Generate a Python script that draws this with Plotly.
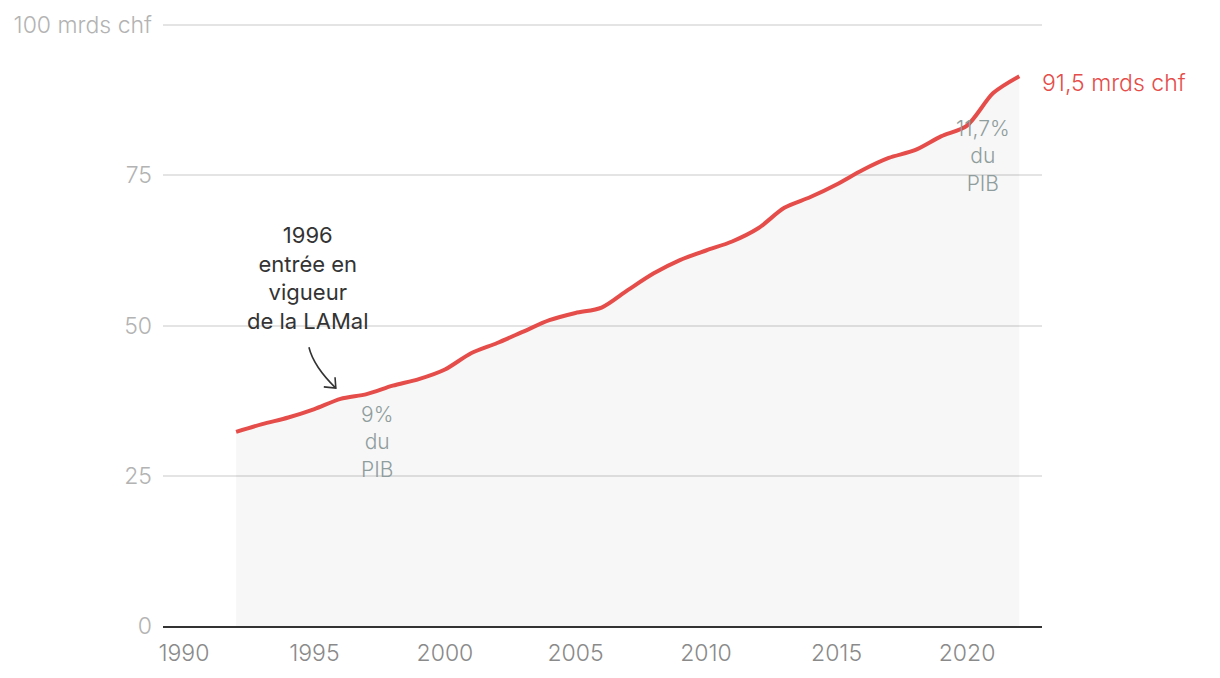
import plotly.graph_objects as go

years = list(range(1992, 2023))
costs = [32.3, 33.6, 34.7, 36.1, 37.8, 38.6, 40.0, 41.1, 42.7, 45.4,
         47.1, 49.0, 50.9, 52.1, 53.0, 55.9, 58.7, 60.9, 62.5, 64.0,
         66.2, 69.6, 71.4, 73.5, 75.9, 77.9, 79.2, 81.5, 83.3, 88.7, 91.5]

y_ticks = [0, 25, 50, 75, 100]
y_labels = ['0', '25', '50', '75', '100 mrds chf']
x_ticks = [1990, 1995, 2000, 2005, 2010, 2015, 2020]

red = '#e54d4a'
grey_note = '#8f9d9d'

fig = go.Figure()
fig.add_trace(go.Scatter(
    x=years, y=costs, mode='lines', fill='tozeroy',
    fillcolor='rgba(0,0,0,0.03)',
    line=dict(color=red, width=4, shape='spline', smoothing=0.8),
    showlegend=False, hoverinfo='skip'))

# curved arrow for the 1996 note
fig.add_shape(type='path', xref='x', yref='y',
              path='M 1994.79,46.4 Q 1994.97,43.2 1995.82,39.6',
              line=dict(color='#333333', width=1.6))
fig.add_shape(type='path', xref='x', yref='y',
              path='M 1995.36,39.8 L 1995.82,39.6 L 1995.79,41.4',
              line=dict(color='#333333', width=1.6))

fig.add_annotation(x=1994.75, y=57.9, xref='x', yref='y', showarrow=False,
                   text='1996<br>entrée en<br>vigueur<br>de la LAMal',
                   font=dict(size=22, color='#333333'), align='center')
fig.add_annotation(x=1997.39, y=30.6, xref='x', yref='y', showarrow=False,
                   text='9%<br>du<br>PIB', font=dict(size=21, color=grey_note, weight=300),
                   align='center')
fig.add_annotation(x=2020.61, y=78.2, xref='x', yref='y', showarrow=False,
                   text='11,7%<br>du<br>PIB', font=dict(size=21, color=grey_note, weight=300),
                   align='center')
fig.add_annotation(x=years[-1], y=costs[-1], xref='x', yref='y', showarrow=False,
                   text='91,5 mrds chf', xanchor='left', xshift=21, yshift=-7,
                   font=dict(size=23, color=red, weight=300))

fig.update_layout(
    width=1220, height=678,
    margin=dict(l=155, r=186, t=16, b=60),
    paper_bgcolor='white', plot_bgcolor='white',
    font=dict(family='Inter, Roboto, sans-serif'),
    xaxis=dict(range=[1989.2, 2022.87], tickvals=x_ticks, showgrid=False,
               showline=True, linecolor='#333333', linewidth=2,
               ticks='', ticklabelstandoff=5, automargin=False,
               tickfont=dict(size=23, color='#8a8a8a', weight=300), zeroline=False),
    yaxis=dict(range=[0, 100.2], tickvals=y_ticks, ticktext=y_labels,
               showgrid=True, gridcolor='#e4e4e4', gridwidth=1.5, automargin=False,
               zeroline=False, showline=False, ticks='', ticklabelstandoff=10,
               tickfont=dict(size=23, color='#b3b3b3', weight=300)),
)

fig.write_html('out.html')
